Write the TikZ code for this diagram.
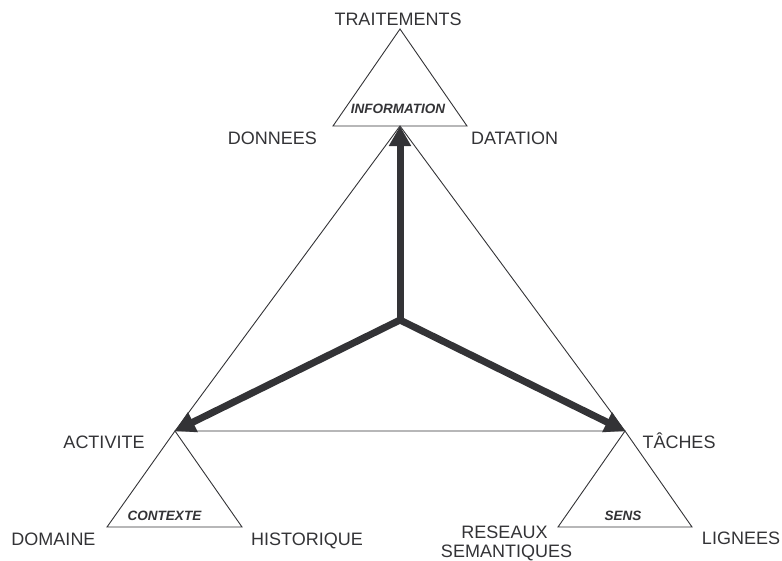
\documentclass[tikz,border=0pt]{standalone}
\usepackage{fontspec}
\setmainfont{Liberation Sans}
\usetikzlibrary{arrows.meta}
\definecolor{ink}{HTML}{333336}
\begin{document}
\begin{tikzpicture}[x=1pt,y=-1pt,
  thinline/.style={draw=ink,line width=0.9pt,line join=miter},
  bigarrow/.style={draw=ink,line width=7pt,-{Triangle[length=20pt,width=21pt]},shorten >=0pt},
  lbl/.style={inner sep=0pt,anchor=base,text=ink,font=\fontsize{18}{20}\selectfont},
  ttl/.style={inner sep=0pt,anchor=base,text=ink,font=\fontsize{13.5}{15}\selectfont\bfseries\itshape}]
\useasboundingbox (0,0) rectangle (782,560);
% main vertices
\coordinate (T) at (400,126);
\coordinate (L) at (175,431);
\coordinate (R) at (625,431);
\coordinate (C) at (400,320);
% small triangles
\coordinate (Ta) at (400,29);
\coordinate (Tl) at (333,126);
\coordinate (Tr) at (467,126);
\coordinate (Lb1) at (107,527);
\coordinate (Lb2) at (242,527);
\coordinate (Rb1) at (558,527);
\coordinate (Rb2) at (692,527);
% large triangle
\draw[thinline] (T) -- (L) -- (R) -- cycle;
% small triangles
\draw[thinline] (Ta) -- (Tl) -- (Tr) -- cycle;
\draw[thinline] (L) -- (Lb1) -- (Lb2) -- cycle;
\draw[thinline] (R) -- (Rb1) -- (Rb2) -- cycle;
% arrows
\draw[bigarrow] (C) -- (T);
\draw[bigarrow] (C) -- (L);
\draw[bigarrow] (C) -- (R);
\fill[ink] (C) circle (3.5pt);
% labels
\node[lbl] (traitements) at (398,25) {TRAITEMENTS};
\node[ttl] (information) at (398,113) {INFORMATION};
\node[lbl] (donnees) at (272.5,144) {DONNEES};
\node[lbl] (datation) at (514.5,144) {DATATION};
\node[lbl] (activite) at (104,448) {ACTIVITE};
\node[lbl] (taches) at (679,448) {TÂCHES};
\node[ttl] (contexte) at (164.5,520) {CONTEXTE};
\node[ttl] (sens) at (623,520) {SENS};
\node[lbl] (domaine) at (53.5,545) {DOMAINE};
\node[lbl] (historique) at (307,545) {HISTORIQUE};
\node[lbl] (reseaux) at (504.5,538) {RESEAUX};
\node[lbl] (semantiques) at (506.5,557) {SEMANTIQUES};
\node[lbl] (lignees) at (741,544) {LIGNEES};
\end{tikzpicture}
\end{document}
